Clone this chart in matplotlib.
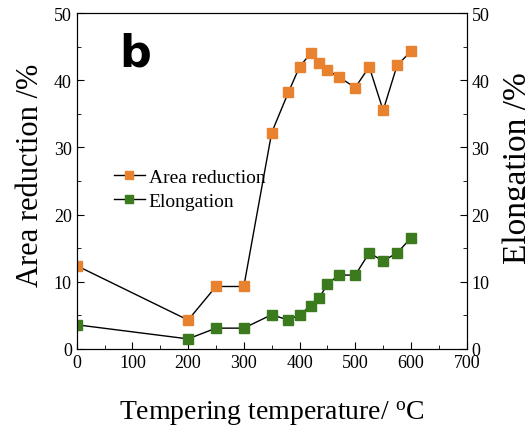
import matplotlib
matplotlib.use("Agg")
import matplotlib.pyplot as plt
from matplotlib.ticker import MultipleLocator

temp_area = [0, 200, 250, 300, 350, 380, 400, 420, 435, 450, 470, 500, 525, 550, 575, 600]
area_reduction = [12.4, 4.3, 9.3, 9.3, 32.2, 38.2, 42.0, 44.0, 42.5, 41.5, 40.5, 38.9, 42.0, 35.5, 42.2, 44.3]
temp_elong = [0, 200, 250, 300, 350, 380, 400, 420, 435, 450, 470, 500, 525, 550, 575, 600]
elongation = [3.6, 1.5, 3.1, 3.1, 5.1, 4.3, 5.1, 6.4, 7.6, 9.6, 11.0, 11.0, 14.3, 13.1, 14.3, 16.5]

orange = "#E8822E"
green = "#3C7A1E"

plt.rcParams['font.family'] = ['Liberation Serif', 'DejaVu Serif']
fig = plt.figure(figsize=(5.25, 4.31), dpi=100)
ax = fig.add_axes([0.146, 0.188, 0.743, 0.7795])
ax.plot(temp_area, area_reduction, color='black', lw=1, marker='s', ms=7,
        mfc=orange, mec=orange, label='Area reduction')
ax.plot(temp_elong, elongation, color='black', lw=1, marker='s', ms=7,
        mfc=green, mec=green, label='Elongation')
ax.set_xlim(0, 700)
ax.set_ylim(0, 50)
ax.xaxis.set_major_locator(MultipleLocator(100))
ax.xaxis.set_minor_locator(MultipleLocator(50))
ax.yaxis.set_major_locator(MultipleLocator(10))
ax.yaxis.set_minor_locator(MultipleLocator(5))
ax.tick_params(which='both', direction='in', labelsize=13, top=False, right=False)
ax.tick_params(which='major', length=5)
ax.tick_params(which='minor', length=3)
ax.set_xlabel('Tempering temperature/ $\\mathregular{^oC}$', fontsize=20, labelpad=20)
ax.set_ylabel('Area reduction /%', fontsize=22, labelpad=6, y=0.52)

ax2 = ax.twinx()
ax2.set_ylim(0, 50)
ax2.yaxis.set_major_locator(MultipleLocator(10))
ax2.yaxis.set_minor_locator(MultipleLocator(5))
ax2.tick_params(which='both', direction='in', labelsize=13)
ax2.tick_params(which='major', length=5)
ax2.tick_params(which='minor', length=3)
ax2.set_ylabel('Elongation /%', fontsize=24, labelpad=9, y=0.54)

ax.text(0.11, 0.845, 'b', transform=ax.transAxes, fontsize=32, fontweight='bold',
        family='DejaVu Sans')
ax.legend(loc='upper left', bbox_to_anchor=(0.05, 0.59), frameon=False, fontsize=14,
          handlelength=1.6, handletextpad=0.2, labelspacing=0.35, markerscale=0.75)

fig.savefig('out.png', dpi=100)
